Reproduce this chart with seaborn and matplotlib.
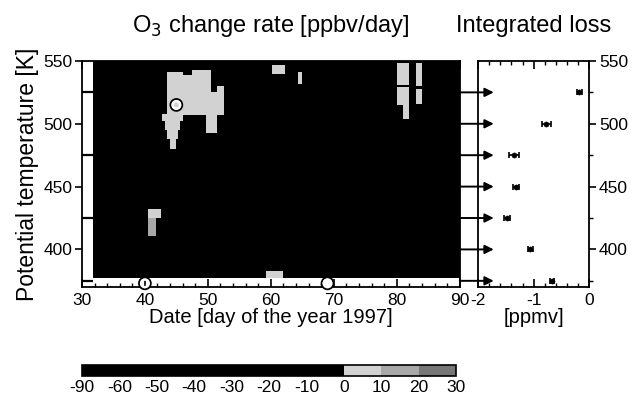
import numpy as np
import matplotlib
matplotlib.use('Agg')
import matplotlib.pyplot as plt
from matplotlib.colors import ListedColormap, BoundaryNorm
from matplotlib.ticker import MultipleLocator, FixedLocator
import seaborn as sns

# O3 change rate field: negative (black) background with a few positive patches
day_first, day_last = 31.75, 90.0
theta_low, theta_high = 377.0, 550.0
background_rate = -40.0

# positive patches: day range, theta range, rate [ppbv/day]
patch_day0 = [43.5, 50.6, 47.6, 49.8, 42.7, 43.2, 43.6, 44.0, 40.5, 40.5, 60.3, 64.3, 59.3,
              80.0, 80.0, 81.0, 83.0, 83.0, 43.5, 51.5]
patch_day1 = [50.6, 52.4, 50.6, 51.4, 45.9, 45.6, 45.3, 45.1, 42.4, 41.8, 62.2, 65.0, 62.0,
              81.9, 81.9, 81.9, 84.0, 84.0, 46.0, 52.4]
patch_th0 = [507, 507, 538, 493, 502, 495, 488, 480, 425, 411, 540, 532, 377,
             531, 515, 504, 530, 516, 539, 525]
patch_th1 = [539, 525, 543, 507, 508, 502, 495, 488, 432, 425, 547, 541, 383,
             548, 529, 515, 548, 528, 541, 530]
patch_rate = [5, 5, 5, 5, 5, 5, 5, 5, 5, 12, 5, 5, 5,
              5, 5, 5, 5, 5, 5, 5]

# vortex markers
circle_day = [40.0, 69.0, 45.0]
circle_theta = [373.0, 373.0, 515.0]

# integrated loss
loss_theta = [375, 400, 425, 450, 475, 500, 525]
loss_ppmv = [-0.67, -1.06, -1.48, -1.32, -1.35, -0.77, -0.18]
loss_err = [0.03, 0.04, 0.05, 0.06, 0.09, 0.085, 0.045]

# colour scale
cbar_bounds = [-90, -60, -50, -40, -30, -20, -10, 0, 10, 20, 30]
cbar_colors = ['black'] * 7 + ['#d2d2d2', '#a8a8a8', '#777777']

sns.set_style('ticks', {'text.color': 'black', 'axes.labelcolor': 'black',
                        'xtick.color': 'black', 'ytick.color': 'black',
                        'axes.edgecolor': 'black'})
plt.rcParams['font.family'] = ['Liberation Sans', 'DejaVu Sans']
plt.rcParams['axes.linewidth'] = 1.3
plt.rcParams['axes.unicode_minus'] = False

# build grid
day_edges = np.arange(day_first, day_last + 0.001, 0.25)
theta_edges = np.arange(theta_low, theta_high + 0.001, 1.0)
dc = 0.5 * (day_edges[:-1] + day_edges[1:])
tc = 0.5 * (theta_edges[:-1] + theta_edges[1:])
D, T = np.meshgrid(dc, tc)
rate = np.full(D.shape, background_rate)
for d0, d1, t0, t1, r in zip(patch_day0, patch_day1, patch_th0, patch_th1, patch_rate):
    rate[(D >= d0) & (D <= d1) & (T >= t0) & (T <= t1)] = r

cmap = ListedColormap(cbar_colors)
norm = BoundaryNorm(cbar_bounds, cmap.N)

fig = plt.figure(figsize=(6.35, 4.01), dpi=100)
ax1 = fig.add_axes([0.129, 0.284, 0.595, 0.564])
ax2 = fig.add_axes([0.753, 0.284, 0.175, 0.564])
cax = fig.add_axes([0.129, 0.062, 0.589, 0.027])

mesh = ax1.pcolormesh(day_edges, theta_edges, rate, cmap=cmap, norm=norm, shading='flat', zorder=1)
ax1.set_xlim(30, 90)
ax1.set_ylim(370, 550)
ax1.scatter(circle_day, circle_theta, s=70, facecolors='none', edgecolors='black', linewidths=1.5, clip_on=False, zorder=5)
ax1.scatter(circle_day, circle_theta, s=30, facecolors='none', edgecolors='white', linewidths=1.8, clip_on=False, zorder=6)

ax1.xaxis.set_major_locator(MultipleLocator(10))
ax1.xaxis.set_minor_locator(MultipleLocator(2))
ax1.yaxis.set_major_locator(MultipleLocator(50))
ax1.yaxis.set_minor_locator(FixedLocator(loss_theta))
ax1.tick_params(axis='x', which='both', direction='in', top=True, labelsize=12.5, pad=4)
ax1.tick_params(axis='x', which='major', length=6, width=1.2)
ax1.tick_params(axis='x', which='minor', length=3, width=1)
ax1.tick_params(axis='y', which='major', direction='out', length=5, width=1.2, labelsize=12.5, pad=2)
ax1.tick_params(axis='y', which='minor', direction='in', length=8, width=1.6)
ax1.set_title('O$_3$ change rate [ppbv/day]', fontsize=17, pad=21)
ax1.set_xlabel('Date [day of the year 1997]', fontsize=14.5, labelpad=0)
ax1.set_ylabel('Potential temperature [K]', fontsize=16.5, labelpad=3)

# integrated loss panel
ax2.errorbar(loss_ppmv, loss_theta, xerr=loss_err, fmt='none', ecolor='black', elinewidth=1.2, capsize=2.5, capthick=1.2)
sns.scatterplot(x=loss_ppmv, y=loss_theta, ax=ax2, color='black', s=14, marker='o', edgecolor='black', zorder=4)
ax2.set_xlim(-2, 0)
ax2.set_ylim(370, 550)
ax2.xaxis.set_major_locator(MultipleLocator(1))
ax2.xaxis.set_minor_locator(MultipleLocator(0.2))
ax2.yaxis.set_major_locator(MultipleLocator(50))
ax2.yaxis.set_minor_locator(MultipleLocator(25))
ax2.yaxis.tick_right()
ax2.tick_params(axis='x', which='both', direction='in', top=True, labelsize=12.5, pad=4)
ax2.tick_params(axis='x', which='major', length=6, width=1.2)
ax2.tick_params(axis='x', which='minor', length=3, width=1)
ax2.tick_params(axis='y', which='both', direction='out', left=False, right=True, labelsize=12.5, pad=2)
ax2.tick_params(axis='y', which='major', length=5, width=1.2)
ax2.tick_params(axis='y', which='minor', length=3, width=1)
ax2.set_title('Integrated loss', fontsize=17, pad=21)
ax2.set_xlabel('[ppmv]', fontsize=14.5, labelpad=0)

# arrows from the rate field to the loss panel
for th in loss_theta:
    ax2.annotate('', xy=(-1.72, th), xycoords='data', xytext=(90, th), textcoords=ax1.transData,
                 arrowprops=dict(arrowstyle='-|>', color='black', lw=1.4, mutation_scale=13,
                                 shrinkA=0, shrinkB=0), annotation_clip=False)

cb = fig.colorbar(mesh, cax=cax, orientation='horizontal', boundaries=cbar_bounds,
                  ticks=cbar_bounds, spacing='uniform')
cb.outline.set_linewidth(1.2)
cax.tick_params(labelsize=12.5, length=0, pad=3)

fig.savefig('out.png', dpi=100)
